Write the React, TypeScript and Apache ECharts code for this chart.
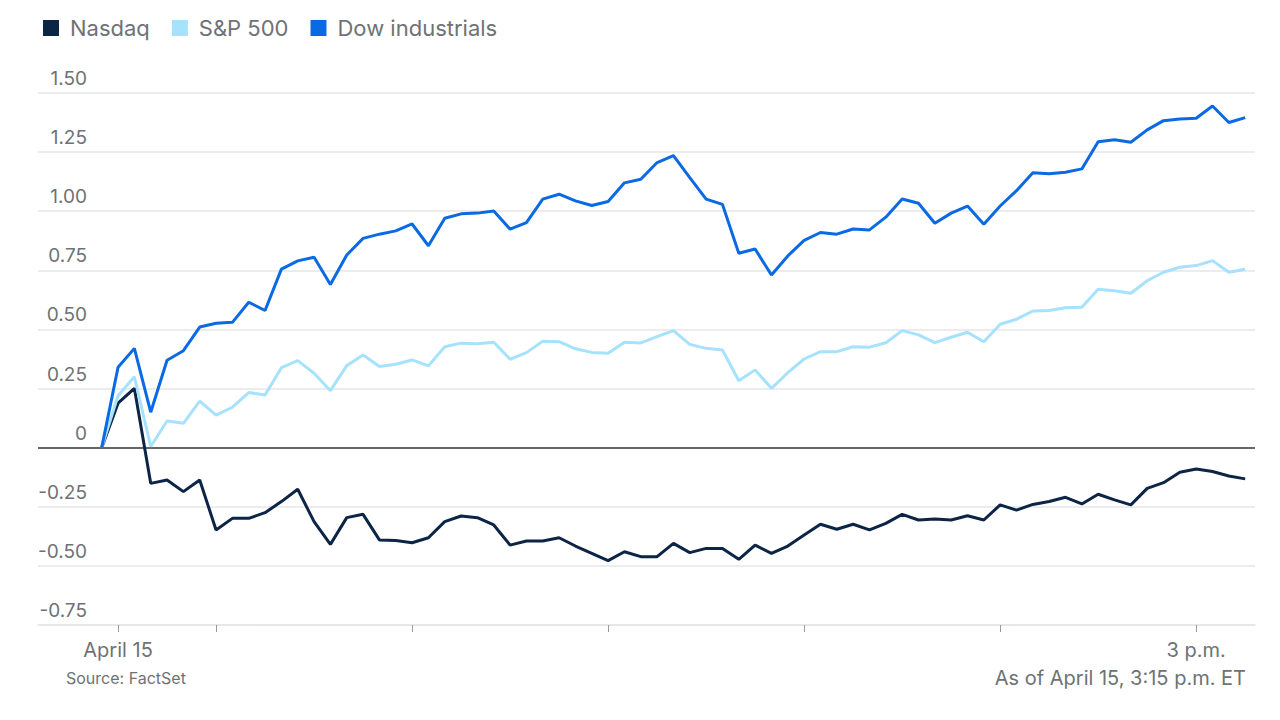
import React, { useEffect, useRef } from "react";
import * as echarts from "echarts";

const seriesNames = ["Nasdaq", "S&P 500", "Dow industrials"];
const seriesColors = ["#0c2446", "#a6e2fd", "#0a6ae3"];

// 5-minute intervals from 9:25 a.m. to 3:15 p.m. (minutes after midnight)
const startMinute = 565;
const stepMinutes = 5;

const nasdaq = [
  0, 0.188, 0.251, -0.151, -0.137, -0.186, -0.137, -0.348, -0.299, -0.299,
  -0.275, -0.228, -0.176, -0.313, -0.409, -0.296, -0.282, -0.39, -0.393, -0.402,
  -0.381, -0.313, -0.289, -0.296, -0.327, -0.412, -0.395, -0.395, -0.381, -0.416,
  -0.447, -0.478, -0.44, -0.461, -0.461, -0.405, -0.444, -0.426, -0.426, -0.472,
  -0.412, -0.447, -0.416, -0.369, -0.324, -0.345, -0.324, -0.348, -0.32, -0.282,
  -0.306, -0.302, -0.306, -0.288, -0.306, -0.242, -0.264, -0.24, -0.228, -0.21,
  -0.238, -0.197, -0.221, -0.242, -0.172, -0.148, -0.104, -0.09, -0.101, -0.12,
  -0.132,
];

const sp500 = [
  0, 0.22, 0.3, 0.005, 0.113, 0.103, 0.197, 0.138, 0.171, 0.233,
  0.223, 0.338, 0.368, 0.315, 0.241, 0.347, 0.392, 0.343, 0.353, 0.371,
  0.346, 0.427, 0.442, 0.44, 0.446, 0.374, 0.402, 0.45, 0.448, 0.418,
  0.403, 0.399, 0.446, 0.443, 0.47, 0.495, 0.437, 0.42, 0.413, 0.283,
  0.329, 0.251, 0.317, 0.375, 0.406, 0.406, 0.427, 0.425, 0.444, 0.495,
  0.477, 0.444, 0.467, 0.488, 0.448, 0.522, 0.543, 0.578, 0.58, 0.592,
  0.594, 0.67, 0.664, 0.653, 0.706, 0.742, 0.763, 0.77, 0.791, 0.742,
  0.755,
];

const dow = [
  0, 0.34, 0.42, 0.15, 0.37, 0.41, 0.51, 0.526, 0.53, 0.615,
  0.58, 0.755, 0.79, 0.805, 0.69, 0.815, 0.885, 0.903, 0.917, 0.946,
  0.854, 0.97, 0.989, 0.992, 1.001, 0.924, 0.952, 1.051, 1.072, 1.044,
  1.024, 1.041, 1.12, 1.135, 1.206, 1.235, 1.142, 1.051, 1.029, 0.822,
  0.84, 0.73, 0.811, 0.877, 0.91, 0.903, 0.925, 0.921, 0.975, 1.052,
  1.034, 0.949, 0.992, 1.022, 0.945, 1.022, 1.087, 1.163, 1.158, 1.165,
  1.179, 1.294, 1.302, 1.292, 1.344, 1.383, 1.39, 1.393, 1.445, 1.375,
  1.396,
];

const xTickMinutes = [570, 600, 660, 720, 780, 840, 900];
const xLabelMinutes = [570, 900];
const xLabelTexts: Record<number, string> = { 570: "April 15", 900: "3 p.m." };
const yTickLabels: Record<string, string> = {
  "-0.75": "-0.75", "-0.5": "-0.50", "-0.25": "-0.25", "0": "0",
  "0.25": "0.25", "0.5": "0.50", "0.75": "0.75", "1": "1.00", "1.25": "1.25", "1.5": "1.50",
};

const sourceText = "Source: FactSet";
const asOfText = "As of April 15, 3:15 p.m. ET";

const FONT = "Inter, 'Liberation Sans', Arial, sans-serif";
const TEXT_GRAY = "#6e7275";

export default function App() {
  const ref = useRef<HTMLDivElement>(null);

  useEffect(() => {
    if (!ref.current) return;
    const chart = echarts.init(ref.current, undefined, { renderer: "svg" });
    const allSeries = [nasdaq, sp500, dow];
    const toPairs = (arr: number[]) => arr.map((v, i) => [startMinute + i * stepMinutes, v]);

    chart.setOption({
      animation: false,
      backgroundColor: "#ffffff",
      textStyle: { fontFamily: FONT },
      legend: {
        left: 38,
        top: 12,
        icon: "rect",
        itemWidth: 16,
        itemHeight: 16,
        itemGap: 22,
        data: seriesNames,
        textStyle: { color: TEXT_GRAY, fontSize: 22, fontFamily: FONT, padding: [0, 0, 0, 6] },
      },
      grid: { left: 38, right: 25, top: 93, bottom: 95, containLabel: false },
      xAxis: {
        type: "value",
        min: 545.5,
        max: 918,
        axisLine: { show: true, onZero: false, lineStyle: { color: "#e6e6e6", width: 1.5 } },
        splitLine: { show: false },
        axisTick: {
          show: true,
          customValues: xTickMinutes,
          length: 7,
          lineStyle: { color: "#9a9a9a", width: 1 },
        },
        axisLabel: {
          show: true,
          customValues: xLabelMinutes,
          margin: 15,
          color: TEXT_GRAY,
          fontSize: 20,
          fontFamily: FONT,
          formatter: (v: number) => xLabelTexts[v] ?? "",
        },
      },
      yAxis: {
        type: "value",
        min: -0.75,
        max: 1.5,
        interval: 0.25,
        axisLine: { show: false },
        axisTick: { show: false },
        splitLine: { show: true, lineStyle: { color: "#e6e6e6", width: 1.5 } },
        axisLabel: {
          inside: true,
          margin: 49,
          align: "right",
          verticalAlign: "bottom",
          padding: [0, 0, 5, 0],
          color: TEXT_GRAY,
          fontSize: 19,
          fontFamily: FONT,
          formatter: (v: number) => yTickLabels[String(Math.round(v * 100) / 100)] ?? String(v),
        },
      },
      series: allSeries.map((arr, k) => ({
        name: seriesNames[k],
        type: "line",
        data: toPairs(arr),
        showSymbol: false,
        symbol: "none",
        lineStyle: { color: seriesColors[k], width: 3 },
        itemStyle: { color: seriesColors[k] },
        z: 3 + k,
        markLine:
          k === 0
            ? {
                silent: true,
                symbol: ["none", "none"],
                label: { show: false },
                lineStyle: { color: "#3a3a3a", width: 1.5, type: "solid" },
                data: [{ yAxis: 0 }],
                z: 1,
              }
            : undefined,
      })),
      graphic: [
        {
          type: "text",
          left: 66,
          top: 670,
          style: { text: sourceText, fill: TEXT_GRAY, fontSize: 16, fontFamily: FONT },
        },
        {
          type: "text",
          right: 34,
          top: 668,
          style: { text: asOfText, fill: TEXT_GRAY, fontSize: 20, fontFamily: FONT },
        },
      ],
    });

    return () => chart.dispose();
  }, []);

  return (
    <div
      ref={ref}
      style={{ position: "fixed", left: 0, top: 0, width: 1280, height: 720 }}
    />
  );
}
